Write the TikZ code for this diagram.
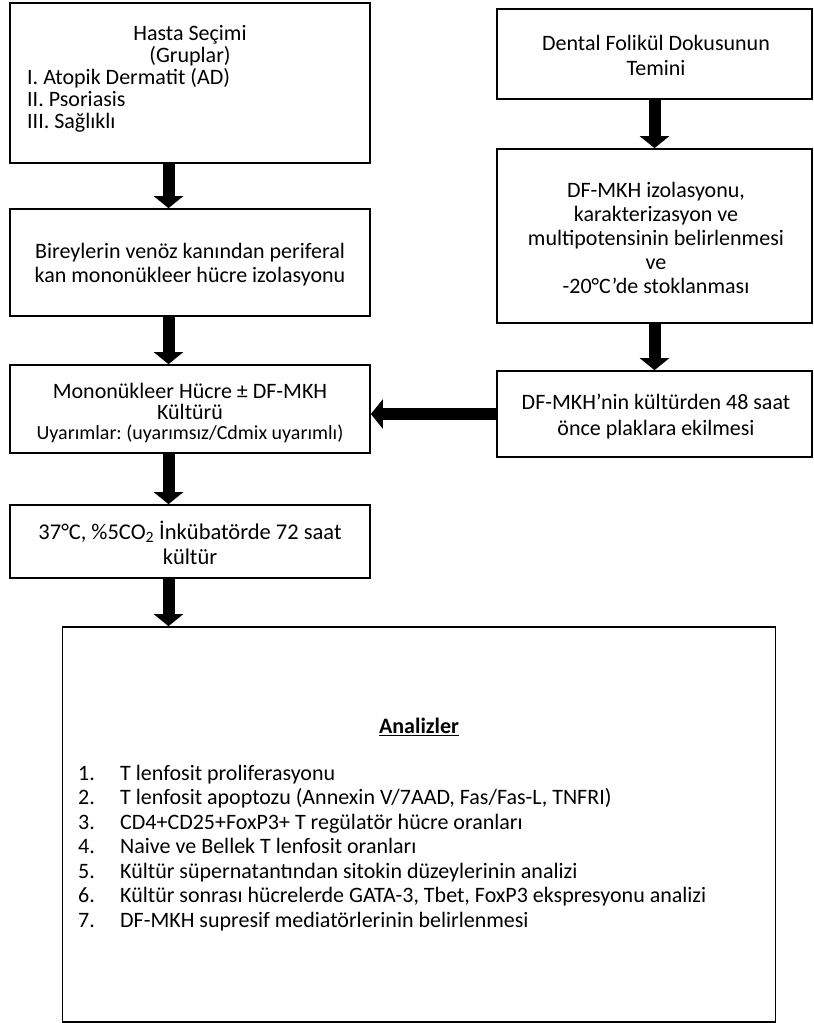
\documentclass[tikz,border=0pt]{standalone}
\usepackage{fontspec}
\setmainfont{Carlito}
\usetikzlibrary{arrows.meta}
\frenchspacing
\begin{document}
\begin{tikzpicture}[x=1pt,y=-1pt,
  box/.style={draw=black, line width=1.7pt, inner sep=0pt},
  txt/.style={inner sep=0pt, font=\fontsize{22}{24}\selectfont, align=center},
  barrow/.style={line width=12pt, -{Triangle[width=29pt,length=12pt]}},
]
\useasboundingbox (0,0) rectangle (814,1023);
% boxes
\node[box, minimum width=360pt, minimum height=160pt] (b1) at (190,83) {};
\node[box, minimum width=360pt, minimum height=107pt] (b2) at (190,262.5) {};
\node[box, minimum width=360pt, minimum height=88pt] (b3) at (190,409) {};
\node[box, minimum width=360pt, minimum height=73pt] (b4) at (190,541.5) {};
\node[box, minimum width=713pt, minimum height=395pt] (b5) at (419,824.5) {};
\node[box, minimum width=315pt, minimum height=90pt] (bA) at (654.5,54) {};
\node[box, minimum width=315pt, minimum height=174pt] (bB) at (654.5,236) {};
\node[box, minimum width=315pt, minimum height=86pt] (bC) at (654.5,414) {};
% texts
\node[txt, font=\fontsize{22}{22}\selectfont] (t1a) at (190,46) {Hasta Seçimi\\(Gruplar)};
\node[txt, font=\fontsize{22}{22}\selectfont, align=left, anchor=west] (t1b) at (27,100) {I. Atopik Dermatit (AD)\\II. Psoriasis\\III. Sağlıklı};
\node[txt] (t2) at (190,265) {Bireylerin venöz kanından periferal\\kan mononükleer hücre izolasyonu};
\node[txt, font=\fontsize{22}{21.5}\selectfont] (t3a) at (190,401.5) {Mononükleer Hücre ± DF-MKH\\Kültürü};
\node[txt, font=\fontsize{20}{20}\selectfont] (t3b) at (190,434) {Uyarımlar: (uyarımsız/Cdmix uyarımlı)};
\node[txt, font=\fontsize{22.5}{25}\selectfont] (t4) at (190,542.5) {37°C, \%5CO\textsubscript{2} İnkübatörde 72 saat\\kültür};
\node[txt, font=\fontsize{22}{25}\selectfont] (tA) at (656,55.5) {Dental Folikül Dokusunun\\Temini};
\node[txt] (tB) at (656,237.5) {DF-MKH izolasyonu,\\karakterizasyon ve\\multipotensinin belirlenmesi\\ve\\-20°C’de stoklanması};
\node[txt, font=\fontsize{22}{26}\selectfont] (tC) at (656,416.5) {DF-MKH’nin kültürden 48 saat\\önce plaklara ekilmesi};
\node[txt, font=\fontsize{22}{24}\selectfont\bfseries] (t5h) at (419,727) {\underline{Analizler}};
\node[txt, align=left, anchor=west, font=\fontsize{22}{24.5}\selectfont] (t5) at (78,848) {%
\makebox[42pt][l]{1.}T lenfosit proliferasyonu\\
\makebox[42pt][l]{2.}T lenfosit apoptozu (Annexin V/7AAD, Fas/Fas-L, TNFRI)\\
\makebox[42pt][l]{3.}CD4+CD25+FoxP3+ T regülatör hücre oranları\\
\makebox[42pt][l]{4.}Naive ve Bellek T lenfosit oranları\\
\makebox[42pt][l]{5.}Kültür süpernatantından sitokin düzeylerinin analizi\\
\makebox[42pt][l]{6.}Kültür sonrası hücrelerde GATA-3, Tbet, FoxP3 ekspresyonu analizi\\
\makebox[42pt][l]{7.}DF-MKH supresif mediatörlerinin belirlenmesi};
% arrows
\draw[barrow] ([xshift=-21.5pt]b1.south) -- ([xshift=-21.5pt]b2.north);
\draw[barrow] ([xshift=-21.5pt]b2.south) -- ([xshift=-21.5pt]b3.north);
\draw[barrow] ([xshift=-21.5pt]b3.south) -- ([xshift=-21.5pt]b4.north);
\draw[barrow] ([xshift=-21.5pt]b4.south) -- ([xshift=-21.5pt]b4.south |- b5.north);
\draw[barrow] (bA.south) -- (bB.north);
\draw[barrow] (bB.south) -- (bC.north);
\draw[barrow] (bC.west) -- (bC.west -| b3.east);
\end{tikzpicture}
\end{document}
